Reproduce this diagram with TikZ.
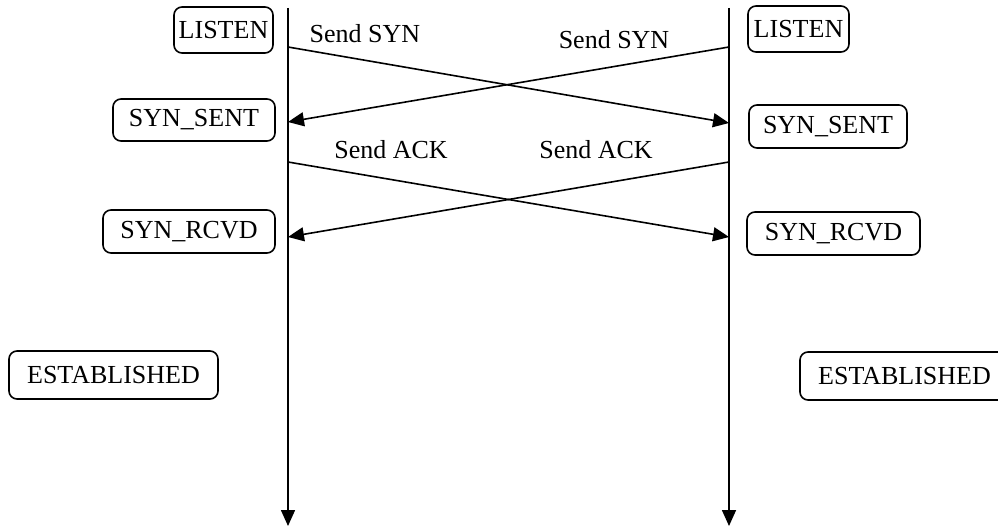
\documentclass[tikz,border=0pt]{standalone}
\usepackage{fontspec}
\setmainfont{Liberation Serif}
\usetikzlibrary{arrows.meta}
\begin{document}
\begin{tikzpicture}[x=1pt,y=-1pt,
  state/.style={draw,line width=1.6pt,rounded corners=8pt,inner sep=0pt,font=\fontsize{26}{30}\selectfont},
  lbl/.style={inner sep=0pt,font=\fontsize{26}{30}\selectfont},
  msg/.style={line width=1.6pt,-{Triangle[length=16pt,width=14pt]}}]
\useasboundingbox (0,0) rectangle (998,527);
\clip (0,0) rectangle (998,527);
% timelines
\coordinate (Ltop) at (288,8);
\coordinate (Lbot) at (288,526);
\coordinate (Rtop) at (729,8);
\coordinate (Rbot) at (729,526);
\draw[msg] (Ltop) -- (Lbot);
\draw[msg] (Rtop) -- (Rbot);
% states
\node[state,minimum width=99pt,minimum height=46pt] (l1) at (223.5,30) {LISTEN};
\node[state,minimum width=101pt,minimum height=46pt] (r1) at (798.5,29) {LISTEN};
\node[state,minimum width=162pt,minimum height=42pt] (l2) at (194,120) {SYN\_SENT};
\node[state,minimum width=158pt,minimum height=43pt] (r2) at (828,126.5) {SYN\_SENT};
\node[state,minimum width=172pt,minimum height=43pt] (l3) at (189,231.5) {SYN\_RCVD};
\node[state,minimum width=173pt,minimum height=43pt] (r3) at (833.5,233.5) {SYN\_RCVD};
\node[state,minimum width=209pt,minimum height=48pt] (l4) at (113.5,375) {ESTABLISHED};
\node[state,minimum width=209pt,minimum height=48pt] (r4) at (904.5,376) {ESTABLISHED};
% message points
\coordinate (a1) at (288,47);
\coordinate (a2) at (729,123);
\coordinate (b1) at (729,47);
\coordinate (b2) at (288,122);
\coordinate (c1) at (288,162);
\coordinate (c2) at (729,237);
\coordinate (d1) at (729,162);
\coordinate (d2) at (288,237);
\draw[msg] (a1) -- (a2);
\draw[msg] (b1) -- (b2);
\draw[msg] (c1) -- (c2);
\draw[msg] (d1) -- (d2);
% labels
\node[lbl] (s1) at (365,34) {Send SYN};
\node[lbl] (s2) at (614,39.5) {Send SYN};
\node[lbl] (k1) at (391,150) {Send ACK};
\node[lbl] (k2) at (596,150) {Send ACK};
\end{tikzpicture}
\end{document}
